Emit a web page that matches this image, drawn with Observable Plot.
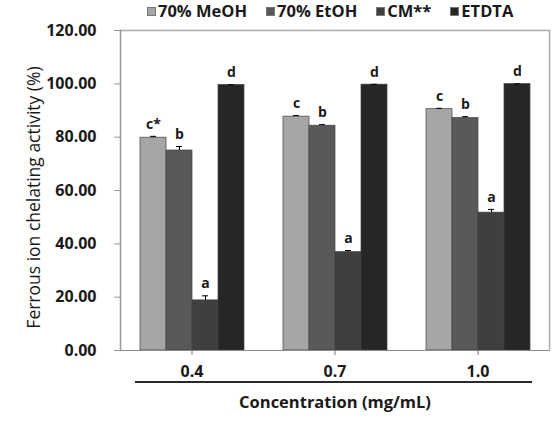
<!DOCTYPE html>
<html>
<head>
<meta charset="utf-8">
<script src="https://cdn.jsdelivr.net/npm/d3@7"></script>
<script src="https://cdn.jsdelivr.net/npm/@observablehq/plot@0.6"></script>
<style>
  body { margin: 0; background: white; }
  #chart { position: relative; width: 556px; height: 425px; font-family: "Open Sans", sans-serif; color: #1a1a1a; }
  #legend { height: 22px; display: flex; align-items: center; gap: 19px; padding-left: 147px; font-weight: 700; font-size: 16.5px; line-height: 22px; }
  #legend .item { display: flex; align-items: center; gap: 2px; }
  #legend .sw { width: 9px; height: 9px; box-sizing: border-box; border: 1px solid #777; }
  #underline { position: absolute; left: 135px; top: 381px; width: 397px; height: 0; border-top: 2px solid #2a2a2a; }
</style>
</head>
<body>
<div id="chart">
  <div id="legend"></div>
</div>
<script>
// Ferrous ion chelating activity (%) by extract and concentration
const concentrations = ["0.4", "0.7", "1.0"];
const series = ["70% MeOH", "70% EtOH", "CM**", "ETDTA"];

const meohMean = [79.8, 87.7, 90.5];
const meohErr = [0.5, 0.4, 0.3];
const etohMean = [75.0, 84.3, 87.2];
const etohErr = [1.5, 0.4, 0.5];
const cmMean = [18.8, 36.9, 51.7];
const cmErr = [1.7, 0.6, 1.2];
const etdtaMean = [99.6, 99.7, 99.9];
const etdtaErr = [0.1, 0.1, 0.1];

const meohLetters = ["c*", "c", "c"];
const etohLetters = ["b", "b", "b"];
const cmLetters = ["a", "a", "a"];
const etdtaLetters = ["d", "d", "d"];

const yTicks = [0, 20, 40, 60, 80, 100, 120];

const seriesColors = ["#a6a6a6", "#595959", "#3f3f3f", "#262626"];

// long-format table built from the arrays above
const means = [meohMean, etohMean, cmMean, etdtaMean];
const errs = [meohErr, etohErr, cmErr, etdtaErr];
const letters = [meohLetters, etohLetters, cmLetters, etdtaLetters];
const rows = [];
concentrations.forEach((c, ci) => {
  series.forEach((s, si) => {
    rows.push({conc: c, series: s, value: means[si][ci], err: errs[si][ci], letter: letters[si][ci]});
  });
});

// legend
const legend = document.getElementById("legend");
series.forEach((s, i) => {
  const item = document.createElement("div");
  item.className = "item";
  const sw = document.createElement("span");
  sw.className = "sw";
  sw.style.background = seriesColors[i];
  const label = document.createElement("span");
  label.textContent = s;
  item.append(sw, label);
  legend.append(item);
});

const chart = Plot.plot({
  width: 556,
  height: 403,
  marginLeft: 119,
  marginRight: 6,
  marginTop: 8,
  marginBottom: 75,
  style: {fontFamily: "'Open Sans', sans-serif", background: "white", overflow: "visible", color: "#1a1a1a"},
  fx: {domain: concentrations, padding: 0},
  x: {domain: series, paddingInner: 0, paddingOuter: 0.74, axis: null},
  y: {domain: [0, 120]},
  color: {domain: series, range: seriesColors},
  marks: [
    Plot.barY(rows, {fx: "conc", x: "series", y: "value", fill: "series", stroke: "#444", strokeWidth: 0.7}),
    Plot.ruleX(rows, {fx: "conc", x: "series", y1: "value", y2: d => d.value + d.err, stroke: "black", strokeWidth: 1}),
    Plot.tickY(rows, {fx: "conc", x: "series", y: d => d.value + d.err, stroke: "black", strokeWidth: 1, insetLeft: 10, insetRight: 10}),
    Plot.text(rows, {fx: "conc", x: "series", y: d => d.value + d.err, text: "letter", dy: -12, fontSize: 14, fontWeight: 700, fill: "#1a1a1a"}),
    Plot.ruleY([0], {stroke: "#8a8a8a", strokeWidth: 1.2}),
    Plot.ruleY([120], {stroke: "#aaaaaa", strokeWidth: 1.5}),
    Plot.frame({anchor: "left", facetAnchor: "left", stroke: "#999", strokeWidth: 1.5}),
    Plot.frame({anchor: "right", facetAnchor: "right", stroke: "#aaa", strokeWidth: 1.5}),
    Plot.axisY({
      ticks: yTicks,
      tickFormat: d => d.toFixed(2),
      tickSize: 6,
      tickPadding: 18,
      stroke: "#999",
      fill: "#1a1a1a",
      fontSize: 16,
      fontWeight: 700,
      label: "Ferrous ion chelating activity (%)",
      labelAnchor: "center",
      labelOffset: 93,
      labelArrow: "none"
    }),
    Plot.axisFx({anchor: "bottom", text: null, tickSize: 5, stroke: "#777", label: null}),
    Plot.axisFx({
      anchor: "bottom",
      tickSize: 0,
      tickPadding: 15,
      fontSize: 16,
      fontWeight: 700,
      fill: "#1a1a1a",
      label: "Concentration (mg/mL)",
      labelAnchor: "center",
      labelOffset: 57
    })
  ]
});
document.getElementById("chart").append(chart);

// the y axis title is regular weight and sits a little below the frame's middle
chart.querySelectorAll("text").forEach(t => {
  if (t.textContent === "Ferrous ion chelating activity (%)") {
    t.setAttribute("font-weight", "500");
    t.setAttribute("font-size", "17.5");
    t.setAttribute("dx", "-7");
  }
  if (t.textContent === "Concentration (mg/mL)") {
    t.setAttribute("font-size", "16.5");
  }
});

const underline = document.createElement("div");
underline.id = "underline";
document.getElementById("chart").append(underline);
</script>
</body>
</html>
